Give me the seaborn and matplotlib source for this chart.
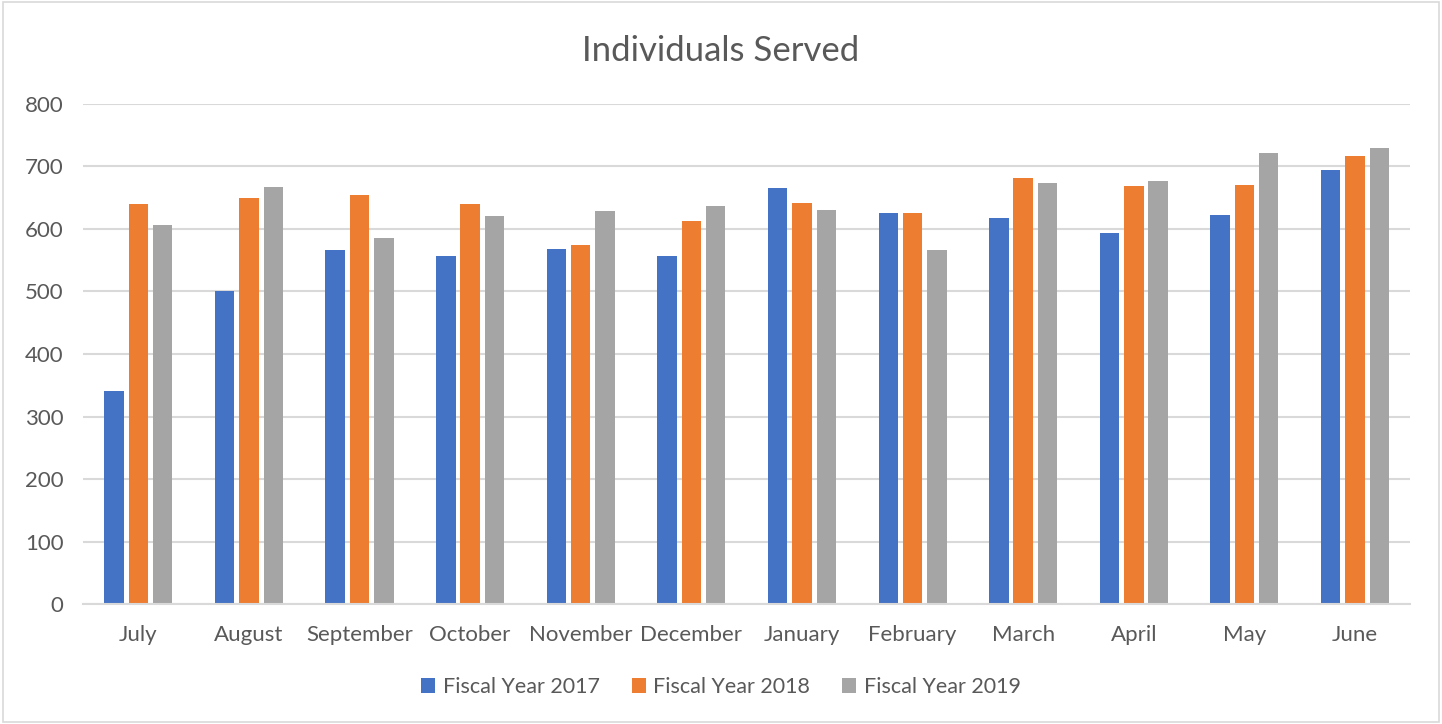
import pandas as pd
import seaborn as sns
import matplotlib.pyplot as plt
from matplotlib.patches import Rectangle

months = ["July", "August", "September", "October", "November", "December",
          "January", "February", "March", "April", "May", "June"]
fy2017 = [341, 500, 567, 556, 568, 556, 665, 626, 617, 593, 622, 694]
fy2018 = [640, 649, 654, 640, 575, 613, 642, 625, 681, 668, 670, 716]
fy2019 = [606, 667, 585, 621, 628, 637, 630, 566, 673, 677, 722, 730]
series = ["Fiscal Year 2017", "Fiscal Year 2018", "Fiscal Year 2019"]
colors = ["#4472C4", "#ED7D31", "#A5A5A5"]

df = pd.DataFrame({
    "Month": months * 3,
    "Individuals": fy2017 + fy2018 + fy2019,
    "Series": [series[0]] * 12 + [series[1]] * 12 + [series[2]] * 12,
})

sns.set_theme(style="white")
plt.rcParams["font.family"] = ["Lato", "DejaVu Sans"]

fig = plt.figure(figsize=(14.42, 7.24), dpi=100)
ax = fig.add_axes([0.0576, 0.1657, 0.9204, 0.6907])

sns.barplot(data=df, x="Month", y="Individuals", hue="Series", order=months,
            hue_order=series, palette=colors, width=0.66, gap=0.2,
            saturation=1, linewidth=0, ax=ax, legend=True)

ax.set_ylim(0, 800)
ax.set_yticks(range(0, 801, 100))
ax.set_xlim(-0.5, 11.5)
ax.yaxis.grid(True, color="#d9d9d9", linewidth=1.5)
ax.set_axisbelow(True)
for s in ["top", "right", "left"]:
    ax.spines[s].set_visible(False)
ax.spines["bottom"].set_color("#d9d9d9")
ax.spines["bottom"].set_linewidth(1.5)
ax.tick_params(axis="both", length=0, labelsize=16, labelcolor="#595959")
ax.tick_params(axis="x", pad=15)
ax.tick_params(axis="y", pad=14)
ax.set_xlabel("")
ax.set_ylabel("")

fig.suptitle("Individuals Served", y=0.952, fontsize=25, color="#595959")

handles, labels = ax.get_legend_handles_labels()
ax.get_legend().remove()
fig.legend(handles, labels, loc="center", bbox_to_anchor=(0.5, 0.051), ncol=3,
           frameon=False, fontsize=15.5, labelcolor="#595959",
           handlelength=0.65, handleheight=0.65, handletextpad=0.35,
           columnspacing=1.5)

fig.patches.append(Rectangle((0.002, 0.003), 0.996, 0.994, transform=fig.transFigure,
                             fill=False, edgecolor="#d9d9d9", linewidth=1.2))

fig.savefig("out.png", dpi=100)
